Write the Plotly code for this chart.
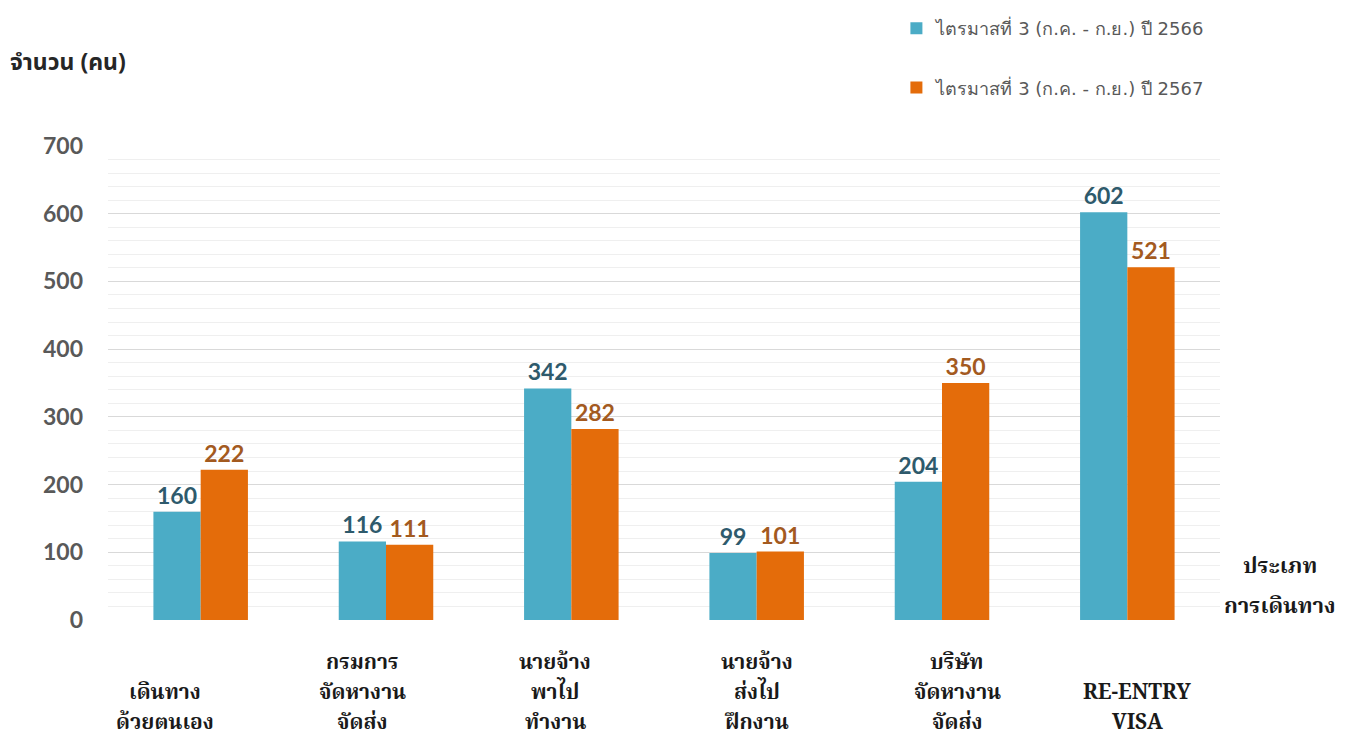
import plotly.graph_objects as go

categories = ["เดินทาง<br>ด้วยตนเอง", "กรมการ<br>จัดหางาน<br>จัดส่ง", "นายจ้าง<br>พาไป<br>ทำงาน",
              "นายจ้าง<br>ส่งไป<br>ฝึกงาน", "บริษัท<br>จัดหางาน<br>จัดส่ง", "RE-ENTRY<br>VISA"]
cat_keys = ["c1", "c2", "c3", "c4", "c5", "c6"]
series_names = ["ไตรมาสที่ 3 (ก.ค. - ก.ย.) ปี 2566", "ไตรมาสที่ 3 (ก.ค. - ก.ย.) ปี 2567"]
values_2566 = [160, 116, 342, 99, 204, 602]
values_2567 = [222, 111, 282, 101, 350, 521]
y_ticks = [0, 100, 200, 300, 400, 500, 600, 700]

bar_colors = ["#4BACC6", "#E46C0A"]
label_colors = ["#2E5A6C", "#A35A1F"]

# plot area in reference pixels: x 108..1220, y 146 (700) .. 620 (0)
PX0, PX1, PY0, PY1 = 108, 1220, 146, 620
def px(x):
    return (x - PX0) / (PX1 - PX0)
def py(y):
    return (PY1 - y) / (PY1 - PY0)

fig = go.Figure()
for i, vals in enumerate([values_2566, values_2567]):
    fig.add_trace(go.Bar(
        x=cat_keys, y=vals, name=series_names[i],
        marker=dict(color=bar_colors[i], line=dict(width=0)),
        text=[str(v) for v in vals], textposition="outside",
        textfont=dict(family="Lato, Open Sans, sans-serif", size=23, color=label_colors[i], weight="bold"),
        cliponaxis=False, legendgroup=f"g{i}",
    ))

# page has an 8px body margin, so the figure is placed 8px in from the top-left
FIG_H = 744
fig.update_layout(
    width=1338, height=FIG_H,
    margin=dict(l=100, r=126, t=138, b=132, autoexpand=False),
    paper_bgcolor="white", plot_bgcolor="white",
    barmode="group", bargap=0.49, bargroupgap=0,
    font=dict(family="Lato, Tahoma, sans-serif"),
    legend=dict(
        x=0.709, xanchor="left", xref="paper",
        y=1 - 2 / FIG_H, yanchor="top", yref="container",
        traceorder="grouped", tracegroupgap=33,
        font=dict(family="DejaVu Sans, Tahoma, sans-serif", size=18, color="#595959"),
        bgcolor="rgba(0,0,0,0)", itemwidth=30,
    ),
)
fig.update_xaxes(showticklabels=False, showgrid=False, showline=False, ticks="",
                 categoryorder="array", categoryarray=cat_keys)
fig.update_yaxes(range=[0, 700], tickvals=y_ticks, showgrid=True, gridcolor="#D9D9D9", gridwidth=1,
                 zeroline=False, showline=False, ticks="",
                 tickfont=dict(family="Lato, Open Sans, sans-serif", size=23, color="#595959", weight="bold"),
                 ticklabelstandoff=24,
                 minor=dict(dtick=20, showgrid=True, gridcolor="#EFEFEF", gridwidth=1))

# Category labels: one annotation per line, bottom line aligned
label_shift = [-36, -24, -16, 0, 15, 10]
line_y = [723, 693, 663]
for key, lab, sh in zip(cat_keys, categories, label_shift):
    lines = lab.split("<br>")
    for j, ln in enumerate(reversed(lines)):
        fig.add_annotation(x=key, xref="x", xshift=sh, y=py(line_y[j]), yref="paper",
                           yanchor="middle", text=f"<b>{ln}</b>", showarrow=False,
                           font=dict(family="Noto Serif Thai, Liberation Serif, serif", size=21, color="#1A1A1A"))

# Y-axis title
fig.add_annotation(x=px(8), xref="paper", y=py(63), yref="paper", xanchor="left", yanchor="middle",
                   text="<b>จำนวน (คน)</b>", showarrow=False,
                   font=dict(family="Tahoma, Noto Sans Thai, sans-serif", size=23, color="#262626"))

# X-axis title on the right
for txt, yy in [("ประเภท", 567), ("การเดินทาง", 607)]:
    fig.add_annotation(x=px(1280), xref="paper", y=py(yy), yref="paper",
                       xanchor="center", yanchor="middle", text=f"<b>{txt}</b>", showarrow=False,
                       font=dict(family="Noto Serif Thai, Tahoma, serif", size=22, color="#1A1A1A"))

fig.write_html("out.html")
